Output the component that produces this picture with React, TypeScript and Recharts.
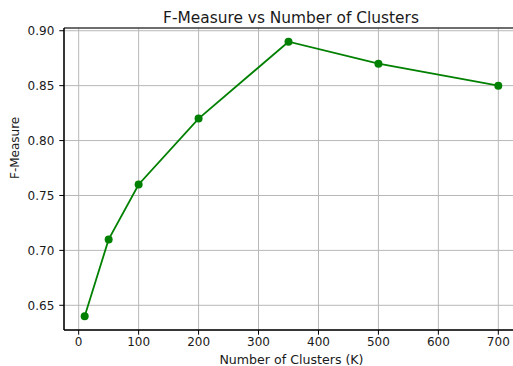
import React from 'react';
import { LineChart, Line, XAxis, YAxis, CartesianGrid, ReferenceArea } from 'recharts';

const clusters = [10, 50, 100, 200, 350, 500, 700];
const fMeasure = [0.64, 0.71, 0.76, 0.82, 0.89, 0.87, 0.85];
const xTicks = [0, 100, 200, 300, 400, 500, 600, 700];
const yTicks = [0.65, 0.7, 0.75, 0.8, 0.85, 0.9];

const data = clusters.map((k, i) => ({ k, f: fMeasure[i] }));

const FONT = 'DejaVu Sans, sans-serif';
const TEXT = '#1a1a1a';
const X_DOMAIN: [number, number] = [-24.5, 734.5];
const Y_DOMAIN: [number, number] = [0.6275, 0.9025];

export default function App() {
  return (
    <div style={{ position: 'absolute', left: 0, top: 0, width: 530, height: 366, background: '#fff' }}>
      <div
        style={{
          position: 'absolute',
          left: 64,
          width: 454,
          top: 9,
          textAlign: 'center',
          fontFamily: FONT,
          fontSize: 15.4,
          color: TEXT,
          lineHeight: '18px',
          whiteSpace: 'nowrap',
        }}
      >
        F-Measure vs Number of Clusters
      </div>
      <LineChart
        width={530}
        height={366}
        data={data}
        margin={{ top: 28, right: 11, left: 0, bottom: 0 }}
      >
        <CartesianGrid stroke="#b8b8b8" strokeWidth={1} />
        <XAxis
          dataKey="k"
          type="number"
          domain={X_DOMAIN}
          ticks={xTicks}
          allowDataOverflow
          height={36}
          tickSize={4.7}
          tickMargin={3}
          axisLine={{ stroke: '#000' }}
          tickLine={{ stroke: '#000' }}
          tick={{ fill: TEXT, fontFamily: FONT, fontSize: 12 }}
          label={{ value: 'Number of Clusters (K)', position: 'insideBottom', offset: 0, dy: -2, fill: TEXT, fontFamily: FONT, fontSize: 12.6 }}
        />
        <YAxis
          type="number"
          domain={Y_DOMAIN}
          ticks={yTicks}
          allowDataOverflow
          width={64}
          tickSize={4.7}
          tickMargin={5}
          tickFormatter={(v: number) => v.toFixed(2)}
          axisLine={{ stroke: '#000' }}
          tickLine={{ stroke: '#000' }}
          tick={{ fill: TEXT, fontFamily: FONT, fontSize: 12 }}
          label={{ value: 'F-Measure', angle: -90, position: 'insideLeft', offset: 15, fill: TEXT, fontFamily: FONT, fontSize: 12 }}
        />
        <ReferenceArea
          x1={X_DOMAIN[0]}
          x2={X_DOMAIN[1]}
          y1={Y_DOMAIN[0]}
          y2={Y_DOMAIN[1]}
          fill="none"
          stroke="#000"
          strokeWidth={1}
          ifOverflow="visible"
        />
        <Line
          dataKey="f"
          stroke="#008000"
          strokeWidth={1.8}
          dot={{ r: 4, fill: '#008000', stroke: '#008000', strokeWidth: 0 }}
          activeDot={false}
          isAnimationActive={false}
        />
      </LineChart>
    </div>
  );
}
